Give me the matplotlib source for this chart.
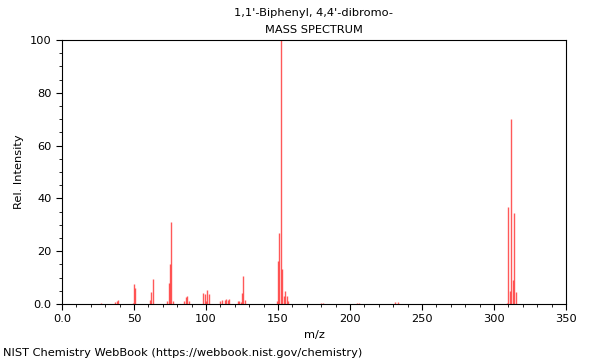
import numpy as np
import matplotlib
matplotlib.use("Agg")
import matplotlib.pyplot as plt
from matplotlib.ticker import MultipleLocator, FixedLocator, FixedFormatter

# peaks (m/z, relative intensity)
mz = [27, 37, 38, 39, 49, 50, 51, 61, 62, 63, 73, 74, 75, 76, 77,
      85, 86, 87, 88, 98, 99, 100, 101, 102, 110, 111, 113, 114, 115, 116,
      122, 123, 124, 125, 126, 127, 149, 150, 151, 152, 153, 154, 155, 156, 157,
      180, 181, 205, 206, 231, 233,
      309, 310, 311, 312, 313, 314, 315]
intensity = [0.5, 0.7, 1.2, 1.5, 0.5, 7.6, 6.2, 1.5, 4.7, 9.5, 1.0, 8.0, 15.0, 31.2, 1.0,
             1.0, 2.5, 3.2, 1.0, 4.0, 3.7, 1.0, 5.3, 3.8, 1.2, 1.5, 1.5, 1.8, 1.5, 1.8,
             1.0, 1.0, 0.7, 4.3, 10.7, 1.5, 1.2, 16.3, 26.8, 100.0, 13.1, 3.0, 5.0, 3.0, 1.0,
             0.5, 0.5, 0.3, 0.3, 0.8, 0.8,
             0.5, 36.6, 5.0, 70.0, 9.0, 34.6, 4.4]

title_lines = ["1,1'-Biphenyl, 4,4'-dibromo-", "MASS SPECTRUM"]
footer = "NIST Chemistry WebBook (https://webbook.nist.gov/chemistry)"

fig = plt.figure(figsize=(6, 3.6), dpi=100)
ax = fig.add_axes([62/600, 1-304/360, 504/600, 264/360])

ax.vlines(mz, 0, intensity, color="#ff3030", linewidth=1.0, alpha=0.8)

ax.set_xlim(0, 350)
ax.set_ylim(0, 100)

xt = [0, 50, 100, 150, 200, 250, 300, 350]
ax.xaxis.set_major_locator(FixedLocator(xt))
ax.xaxis.set_major_formatter(FixedFormatter(["0.0"] + [str(v) for v in xt[1:]]))
ax.xaxis.set_minor_locator(MultipleLocator(10))
yt = [0, 20, 40, 60, 80, 100]
ax.yaxis.set_major_locator(FixedLocator(yt))
ax.yaxis.set_major_formatter(FixedFormatter(["0.0"] + [str(v) for v in yt[1:]]))
ax.yaxis.set_minor_locator(MultipleLocator(5))

ax.tick_params(which="major", length=4, width=0.8, labelsize=8.2, direction="out")
ax.tick_params(which="minor", length=2, width=0.6, direction="out")
for s in ax.spines.values():
    s.set_linewidth(0.8)

ax.set_xlabel("m/z", fontsize=8.2)
ax.set_ylabel("Rel. Intensity", fontsize=8.2)

fig.text(314/600, 1-13/360, title_lines[0], ha="center", va="center", fontsize=8.2)
fig.text(314/600, 1-30/360, title_lines[1], ha="center", va="center", fontsize=8.2)
fig.text(3/600, 1-353/360, footer, ha="left", va="center", fontsize=8.2)

fig.savefig("out.png", dpi=100)
